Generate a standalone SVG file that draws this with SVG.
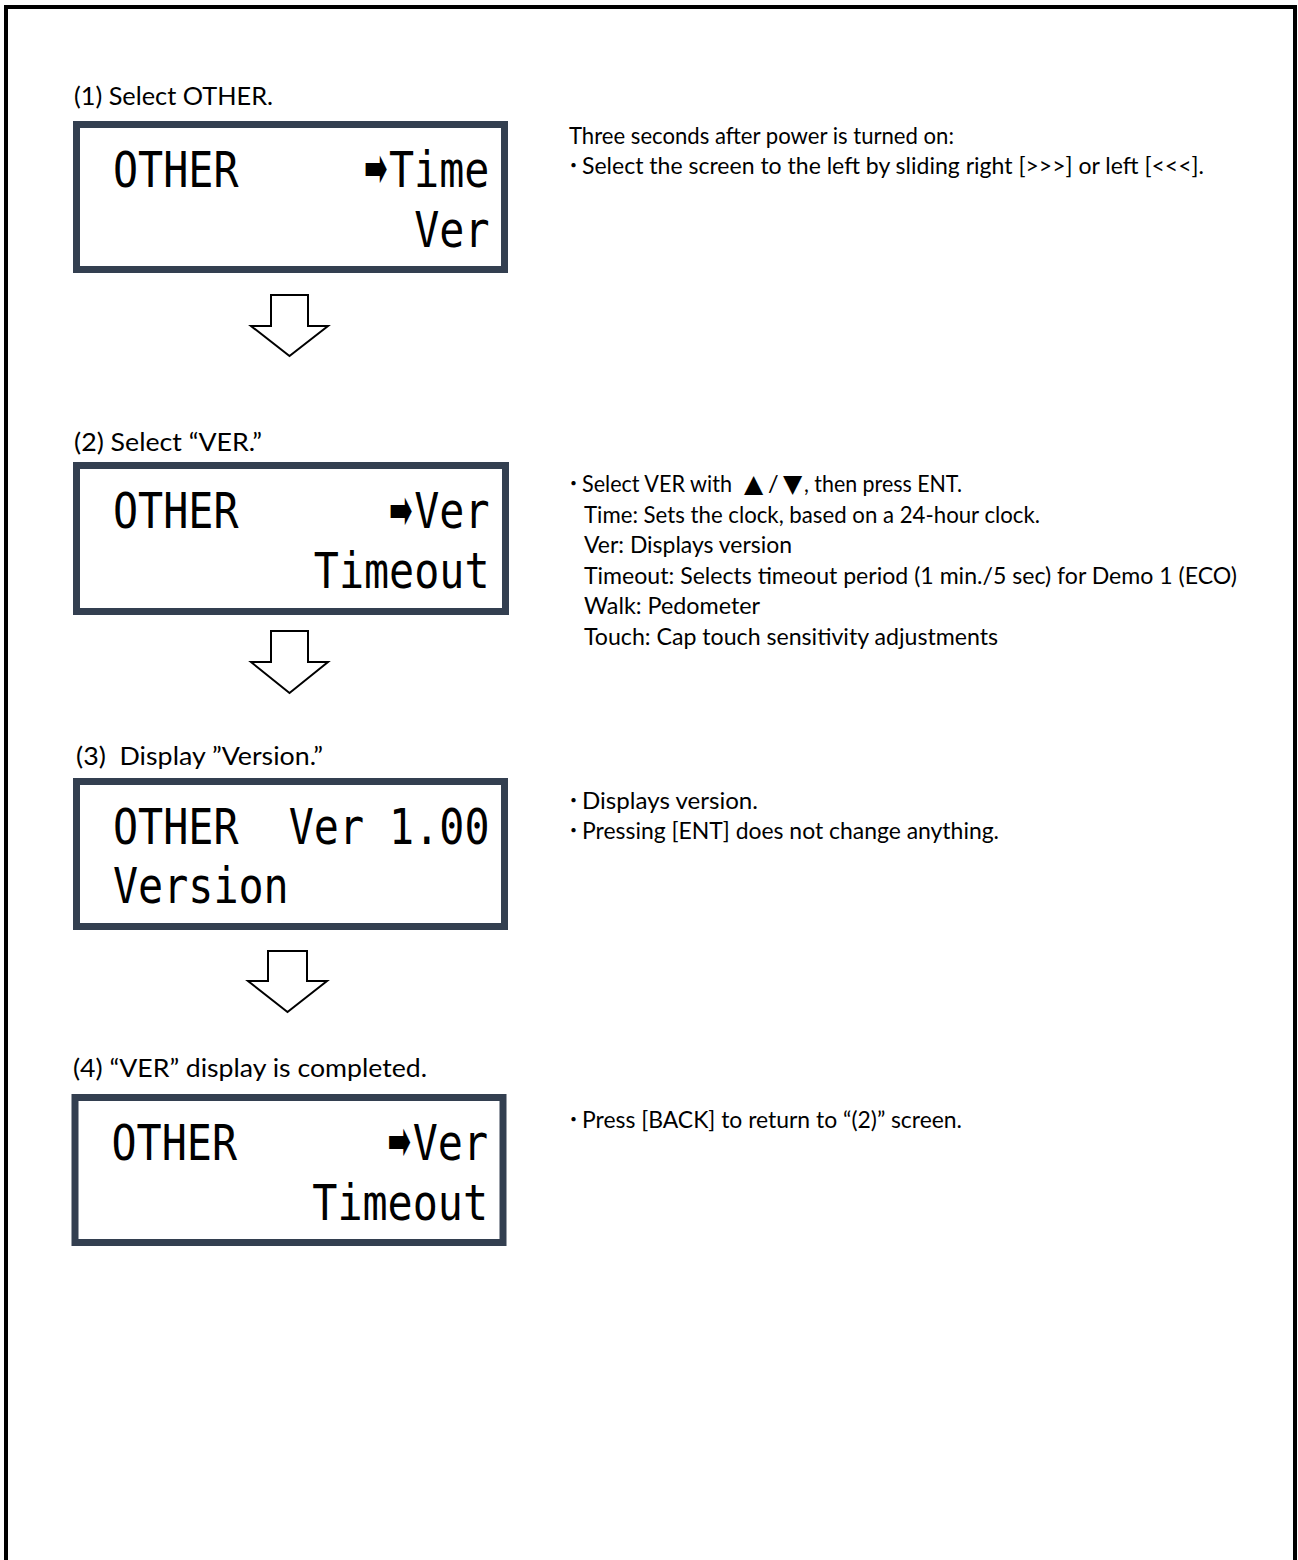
<svg xmlns="http://www.w3.org/2000/svg" width="1298" height="1560" viewBox="0 0 1298 1560">
<style>
.lbl{font-family:Lato,"Noto Sans",sans-serif;font-size:25.5px;fill:#000}
.txt{font-family:Lato,"Noto Sans",sans-serif;font-size:23.5px;fill:#000}
.dot{font-family:"Noto Sans CJK JP",sans-serif;font-size:20px;fill:#000}
.tri{font-family:"DejaVu Sans",sans-serif;font-size:25px;fill:#000}
.lcd{font-family:"DejaVu Sans Mono","Liberation Mono",monospace;font-size:50px;fill:#000}
.ptr{font-family:"DejaVu Sans",sans-serif;font-size:28px;fill:#000}
.box{fill:#fff;stroke:#333F50;stroke-width:7}
.arr{fill:#fff;stroke:#000;stroke-width:2;stroke-linejoin:miter}
</style>
<rect x="0" y="0" width="1298" height="1560" fill="#fff"/>
<rect x="6" y="7" width="1289" height="1620" fill="none" stroke="#000" stroke-width="4"/>

<g id="labels">
<text class="lbl" x="74" y="105" textLength="199" lengthAdjust="spacingAndGlyphs">(1) Select OTHER.</text>
<text class="lbl" x="74" y="451" textLength="188" lengthAdjust="spacingAndGlyphs">(2) Select “VER.”</text>
<text class="lbl" x="76" y="765" textLength="247" lengthAdjust="spacingAndGlyphs" xml:space="preserve">(3)  Display ”Version.”</text>
<text class="lbl" x="73" y="1077" textLength="354" lengthAdjust="spacingAndGlyphs">(4) “VER” display is completed.</text>
</g>

<g id="node1">
<rect class="box" x="76.5" y="124.5" width="428" height="145"/>
<text class="lcd" x="113" y="187" textLength="125.5" lengthAdjust="spacingAndGlyphs">OTHER</text>
<text class="ptr" transform="translate(364,187) scale(1,2)" x="0" y="0" textLength="23.5" lengthAdjust="spacingAndGlyphs">➡</text>
<text class="lcd" x="389" y="187" textLength="100.4" lengthAdjust="spacingAndGlyphs">Time</text>
<text class="lcd" x="414.2" y="247" textLength="75.3" lengthAdjust="spacingAndGlyphs">Ver</text>
</g>

<g id="node2">
<rect class="box" x="76.5" y="465.5" width="429" height="146"/>
<text class="lcd" x="113" y="528" textLength="125.5" lengthAdjust="spacingAndGlyphs">OTHER</text>
<text class="ptr" transform="translate(389,529) scale(1,2)" x="0" y="0" textLength="23.5" lengthAdjust="spacingAndGlyphs">➡</text>
<text class="lcd" x="414.2" y="528" textLength="75.3" lengthAdjust="spacingAndGlyphs">Ver</text>
<text class="lcd" x="313.8" y="588" textLength="175.7" lengthAdjust="spacingAndGlyphs">Timeout</text>
</g>

<g id="node3">
<rect class="box" x="76.5" y="781.5" width="428" height="145"/>
<text class="lcd" x="113" y="844" textLength="125.5" lengthAdjust="spacingAndGlyphs">OTHER</text>
<text class="lcd" x="288.7" y="844" textLength="75.3" lengthAdjust="spacingAndGlyphs">Ver</text>
<text class="lcd" x="389.1" y="844" textLength="100.4" lengthAdjust="spacingAndGlyphs">1.00</text>
<text class="lcd" x="113" y="903" textLength="175.7" lengthAdjust="spacingAndGlyphs">Version</text>
</g>

<g id="node4">
<rect class="box" x="75" y="1097.5" width="428" height="145"/>
<text class="lcd" x="111.5" y="1160" textLength="125.5" lengthAdjust="spacingAndGlyphs">OTHER</text>
<text class="ptr" transform="translate(387.5,1160) scale(1,2)" x="0" y="0" textLength="23.5" lengthAdjust="spacingAndGlyphs">➡</text>
<text class="lcd" x="412.7" y="1160" textLength="75.3" lengthAdjust="spacingAndGlyphs">Ver</text>
<text class="lcd" x="312.3" y="1220" textLength="175.7" lengthAdjust="spacingAndGlyphs">Timeout</text>
</g>

<g id="connectors">
<polygon class="arr" points="271,295 308,295 308,326 328,326 289.5,356 251,326 271,326"/>
<polygon class="arr" points="271,631 308,631 308,662 328,662 289.5,693 251,662 271,662"/>
<polygon class="arr" points="268,951 307,951 307,981 327,981 287.5,1012 248,981 268,981"/>
</g>

<g id="notes">
<text class="txt" x="569" y="144" textLength="385" lengthAdjust="spacingAndGlyphs">Three seconds after power is turned on:</text>
<text class="dot" x="563.5" y="173">・</text>
<text class="txt" x="582" y="174" textLength="622" lengthAdjust="spacingAndGlyphs">Select the screen to the left by sliding right [&gt;&gt;&gt;] or left [&lt;&lt;&lt;].</text>

<text class="dot" x="563.5" y="491">・</text>
<text class="txt" x="582" y="492" textLength="150" lengthAdjust="spacingAndGlyphs">Select VER with</text>
<text class="tri" x="744" y="492">▲</text>
<text class="txt" x="768" y="492">/</text>
<text class="tri" x="783" y="492">▼</text>
<text class="txt" x="804" y="492" textLength="158" lengthAdjust="spacingAndGlyphs">, then press ENT.</text>
<text class="txt" x="584" y="522.5" textLength="456" lengthAdjust="spacingAndGlyphs">Time: Sets the clock, based on a 24-hour clock.</text>
<text class="txt" x="584" y="553" textLength="208" lengthAdjust="spacingAndGlyphs">Ver: Displays version</text>
<text class="txt" x="584" y="583.5" textLength="653" lengthAdjust="spacingAndGlyphs">Timeout: Selects timeout period (1 min./5 sec) for Demo 1 (ECO)</text>
<text class="txt" x="584" y="614" textLength="176" lengthAdjust="spacingAndGlyphs">Walk: Pedometer</text>
<text class="txt" x="584" y="644.5" textLength="414" lengthAdjust="spacingAndGlyphs">Touch: Cap touch sensitivity adjustments</text>

<text class="dot" x="563.5" y="808">・</text>
<text class="txt" x="582" y="809" textLength="176" lengthAdjust="spacingAndGlyphs">Displays version.</text>
<text class="dot" x="563.5" y="838">・</text>
<text class="txt" x="582" y="839" textLength="417" lengthAdjust="spacingAndGlyphs">Pressing [ENT] does not change anything.</text>

<text class="dot" x="563.5" y="1127">・</text>
<text class="txt" x="582" y="1128" textLength="380" lengthAdjust="spacingAndGlyphs">Press [BACK] to return to “(2)” screen.</text>
</g>
</svg>
